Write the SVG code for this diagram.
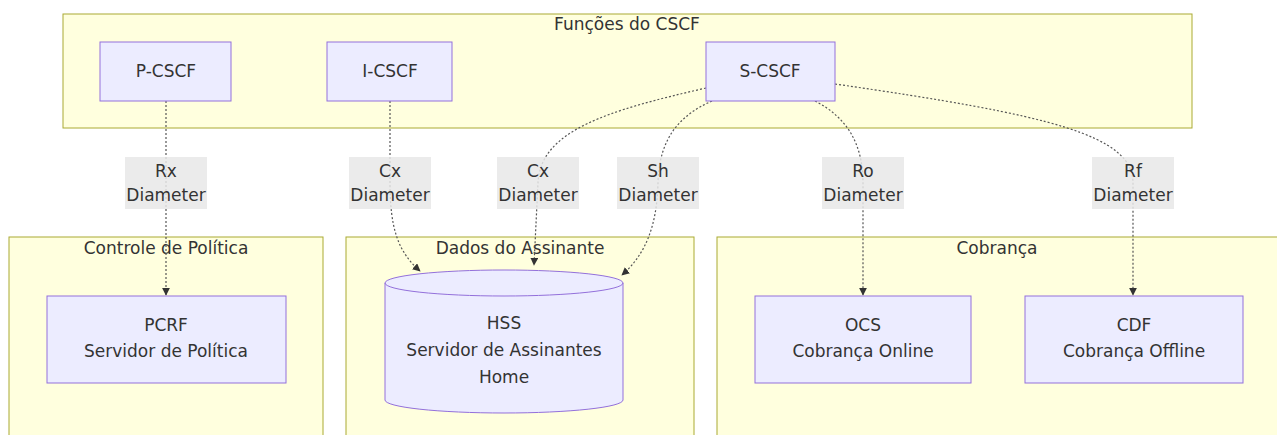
<svg xmlns="http://www.w3.org/2000/svg" width="1277" height="435" viewBox="0 0 1277 435">
<style>
.cluster{fill:#ffffde;stroke:#aaaa33;stroke-width:1}
.node{fill:#ececff;stroke:#9370db;stroke-width:1}
.t{font-family:"DejaVu Sans","Liberation Sans",sans-serif;font-size:17px;fill:#333;text-anchor:middle}
.edge{fill:none;stroke:#555;stroke-width:1.2;stroke-dasharray:2,2}
.lbl{fill:#e8e8e8;opacity:0.85}
</style>
<defs>
<marker id="arr" viewBox="0 0 10 10" refX="9" refY="5" markerWidth="8" markerHeight="8" orient="auto" markerUnits="userSpaceOnUse">
<path d="M0,0 L10,5 L0,10 z" fill="#333"/>
</marker>
</defs>
<g id="cluster-cscf"><rect class="cluster" x="63" y="14" width="1129" height="114"/><text class="t" x="627" y="30">Funções do CSCF</text></g>
<g id="cluster-politica"><rect class="cluster" x="9" y="237" width="314" height="210"/><text class="t" x="166" y="254">Controle de Política</text></g>
<g id="cluster-assinante"><rect class="cluster" x="346" y="237" width="348" height="210"/><text class="t" x="520" y="254">Dados do Assinante</text></g>
<g id="cluster-cobranca"><rect class="cluster" x="717" y="237" width="570" height="210"/><text class="t" x="997" y="254">Cobrança</text></g>

<g id="edges">
<path class="edge" d="M166,101 L166,295" marker-end="url(#arr)"/>
<path class="edge" d="M390,101 L390,183 C390,228 398,252 420,271" marker-end="url(#arr)"/>
<path class="edge" d="M706,88 C610,110 540,130 538,183 L534,265" marker-end="url(#arr)"/>
<path class="edge" d="M712,101 C680,115 659,138 658,183 C657,225 646,254 622,275" marker-end="url(#arr)"/>
<path class="edge" d="M815,101 C848,118 863,145 863,183 L863,295" marker-end="url(#arr)"/>
<path class="edge" d="M835,84 C1050,115 1133,135 1133,183 L1133,295" marker-end="url(#arr)"/>
</g>

<g id="edge-labels">
<rect class="lbl" x="125" y="157" width="82" height="52"/><text class="t" x="166" y="177">Rx</text><text class="t" x="166" y="201">Diameter</text>
<rect class="lbl" x="349" y="157" width="82" height="52"/><text class="t" x="390" y="177">Cx</text><text class="t" x="390" y="201">Diameter</text>
<rect class="lbl" x="497" y="157" width="82" height="52"/><text class="t" x="538" y="177">Cx</text><text class="t" x="538" y="201">Diameter</text>
<rect class="lbl" x="617" y="157" width="82" height="52"/><text class="t" x="658" y="177">Sh</text><text class="t" x="658" y="201">Diameter</text>
<rect class="lbl" x="822" y="157" width="82" height="52"/><text class="t" x="863" y="177">Ro</text><text class="t" x="863" y="201">Diameter</text>
<rect class="lbl" x="1092" y="157" width="82" height="52"/><text class="t" x="1133" y="177">Rf</text><text class="t" x="1133" y="201">Diameter</text>
</g>

<g id="node-pcscf"><rect class="node" x="100" y="42" width="131" height="59"/><text class="t" x="166" y="77">P-CSCF</text></g>
<g id="node-icscf"><rect class="node" x="327" y="42" width="125" height="59"/><text class="t" x="390" y="77">I-CSCF</text></g>
<g id="node-scscf"><rect class="node" x="706" y="42" width="129" height="59"/><text class="t" x="770" y="77">S-CSCF</text></g>

<g id="node-pcrf"><rect class="node" x="47" y="296" width="239" height="87"/><text class="t" x="166" y="331">PCRF</text><text class="t" x="166" y="357">Servidor de Política</text></g>
<g id="node-hss"><path class="node" d="M385,283 a119,13 0 0,0 238,0 a119,13 0 0,0 -238,0 l0,117 a119,13 0 0,0 238,0 l0,-117"/><text class="t" x="504" y="329">HSS</text><text class="t" x="504" y="356">Servidor de Assinantes</text><text class="t" x="504" y="383">Home</text></g>
<g id="node-ocs"><rect class="node" x="755" y="296" width="216" height="87"/><text class="t" x="863" y="331">OCS</text><text class="t" x="863" y="357">Cobrança Online</text></g>
<g id="node-cdf"><rect class="node" x="1025" y="296" width="218" height="87"/><text class="t" x="1134" y="331">CDF</text><text class="t" x="1134" y="357">Cobrança Offline</text></g>
</svg>
